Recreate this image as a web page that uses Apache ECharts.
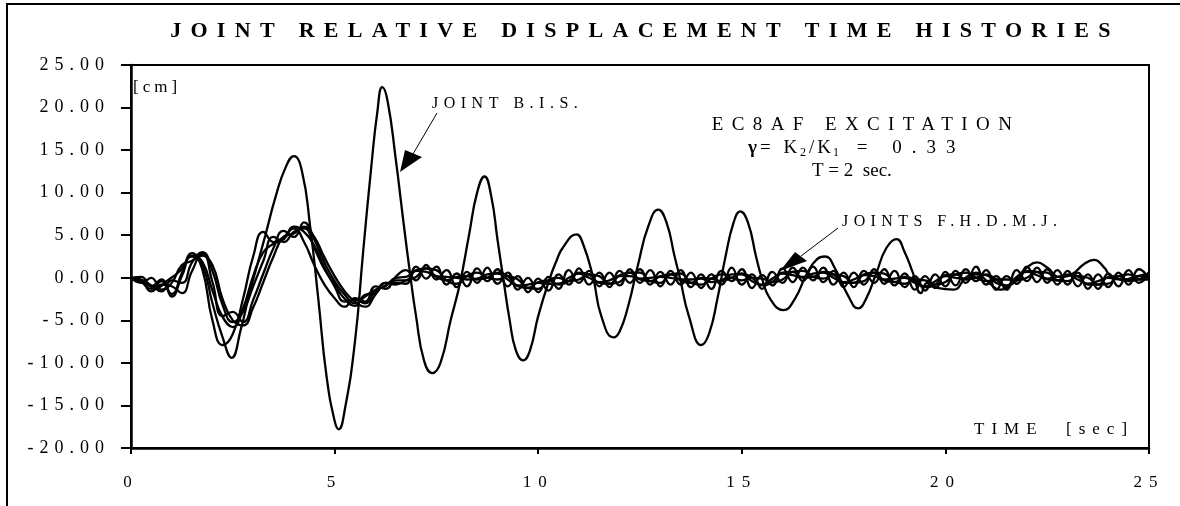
<!DOCTYPE html>
<html><head><meta charset="utf-8">
<script src="https://cdn.jsdelivr.net/npm/echarts@6.0.0/dist/echarts.min.js"></script>
<style>html,body{margin:0;padding:0;background:#fff;}#c{width:1180px;height:506px;}</style>
</head><body><div id="c"></div>
<script>
// ---- data ----
const titleText = 'JOINT RELATIVE DISPLACEMENT TIME HISTORIES';
const xTicks = [0, 5, 10, 15, 20, 25];
const yTicks = [-20, -15, -10, -5, 0, 5, 10, 15, 20, 25];

// JOINT B.I.S. (time [sec], displacement [cm])
const bisT = [0,0.3,0.6,0.9,1.2,1.5,1.75,2.0,2.25,2.47,2.7,2.9,3.1,3.3,3.55,3.8,4.0,4.2,4.4,4.6,4.8,5.0,5.1,5.25,5.5,5.7,5.9,6.05,6.17,6.3,6.5,6.7,6.85,7.0,7.2,7.4,7.6,7.85,8.08,8.3,8.5,8.68,8.85,9.0,9.14,9.3,9.45,9.63,9.8,10.0,10.29,10.45,10.6,10.94,11.1,11.35,11.55,11.85,12.0,12.2,12.45,12.7,12.95,13.15,13.35,13.48,13.7,14.01,14.2,14.4,14.6,14.8,14.96,15.15,15.35,15.49,15.7,16.02,16.3,16.6,16.85,17.04,17.3,17.6,17.86,18.05,18.3,18.55,18.8,19.0,19.2,19.4,19.55,19.8,20.2,20.5,20.75,21.0,21.35,21.7,22.0,22.25,22.5,22.8,23.1,23.4,23.65,23.9,24.05,24.4,24.7,25.0];
const bisV = [0,-0.5,-1.2,-0.3,0.8,2.5,1.5,-3.0,-7.0,-9.4,-6.0,-2.0,1.5,5.0,9.5,13.0,14.3,12.5,6.0,-2.5,-11.5,-16.8,-17.8,-15.5,-7.5,3.0,13.0,19.5,22.4,20.8,14.0,6.2,0.6,-4.5,-9.8,-11.2,-10.0,-5.0,-0.6,5.0,10.0,11.9,9.5,4.5,0.0,-5.0,-8.5,-9.7,-8.5,-4.5,0.0,2.0,3.5,5.1,4.0,0.0,-4.5,-7.0,-6.3,-3.5,1.5,6.0,8.0,6.5,2.5,0.0,-4.5,-7.9,-6.5,-2.5,2.5,6.5,7.8,6.5,2.5,0.0,-2.5,-3.8,-2.5,0.5,2.2,2.5,1.0,-2.0,-3.6,-2.5,0.5,3.5,4.55,3.0,0.6,-1.8,-0.6,-1.2,-1.4,0.0,0.6,-0.3,-1.4,-0.2,1.2,1.8,1.2,0.1,0.4,1.6,2.1,1.2,0.3,-0.2,0.2,0.3];

// JOINTS F.H.D.M.J. common sample times
const fT = [0,0.25,0.5,0.75,1,1.25,1.5,1.75,2,2.25,2.5,2.75,3,3.25,3.5,3.75,4,4.25,4.5,4.75,5,5.25,5.5,5.75,6,6.25,6.5,6.75,7,7.25,7.5,7.75,8,8.25,8.5,8.75,9,9.25,9.5,9.75,10,10.25,10.5,10.75,11,11.25,11.5,11.75,12,12.25,12.5,12.75,13,13.25,13.5,13.75,14,14.25,14.5,14.75,15,15.25,15.5,15.75,16,16.25,16.5,16.75,17,17.25,17.5,17.75,18,18.25,18.5,18.75,19,19.25,19.5,19.75,20,20.25,20.5,20.75,21,21.25,21.5,21.75,22,22.25,22.5,22.75,23,23.25,23.5,23.75,24,24.25,24.5,24.75,25];
const jointF = [0,-0.5,-1.3,-0.4,-1.9,0.6,2.9,1.0,-5.0,-7.9,-6.6,-2.5,2.5,5.4,4.2,4.8,5.8,4.2,1.5,-0.8,-2.4,-3.4,-2.4,-2.8,-1.0,-1.3,0.1,
 0.9,-0.3,1.5,-0.2,0.9,-1.1,0.7,-0.6,1.2,-0.7,0.6,-1.4,0.0,-1.7,0.1,-1.3,0.9,-0.6,0.8,-1.0,0.6,-0.9,1.0,-0.6,0.9,-1.0,0.8,-0.8,0.6,-1.2,0.4,-0.8,1.2,-0.8,0.4,-1.3,0.7,-0.6,1.2,-0.4,1.3,-0.5,0.8,-1.1,0.6,-0.8,1.0,-0.7,0.8,-1.1,0.2,-1.5,0.4,-1.0,0.8,-0.6,1.3,-0.8,0.2,-1.4,0.9,-0.4,1.2,-0.6,0.9,-0.8,0.6,-1.3,0.4,-1.1,0.6,-0.8,1.0,-0.1];
const jointH = [0,-0.2,-0.9,-1.6,-0.3,-0.6,1.8,3.0,0.8,-3.2,-5.2,-4.0,-1.0,2.0,4.8,4.2,5.4,5.8,3.5,1.0,-0.8,-2.5,-3.3,-2.0,-1.8,-0.6,-0.6,
 -0.7,1.3,-0.1,1.3,-0.8,0.5,-1.0,1.1,-0.4,1.0,-1.0,0.2,-1.7,-0.1,-1.5,0.4,-0.8,1.1,-0.8,0.6,-1.1,0.8,-0.6,1.0,-0.8,0.7,-0.8,0.9,-1.1,0.4,-1.3,0.8,-0.4,1.0,-1.2,0.3,-0.9,1.1,-0.5,1.2,-0.3,1.2,-0.8,0.6,-1.1,0.8,-0.6,1.0,-0.9,0.5,-1.4,0.2,-1.2,0.7,-0.9,1.0,-0.4,0.9,-1.4,0.2,-0.7,1.3,-0.5,1.0,-0.8,0.8,-1.0,0.4,-1.3,0.5,-1.0,0.9,-0.6,0.6];
const jointD = [0,-0.6,0.0,-1.4,-0.6,1.5,2.0,2.8,-0.5,-4.5,-4.0,-5.2,-2.6,0.5,3.5,5.5,4.8,6.5,4.5,1.8,-0.4,-2.0,-3.0,-2.2,-1.4,-1.0,0.0,
 0.1,0.8,0.7,0.2,0.1,0.0,-0.2,-0.1,0.4,0.5,-0.2,-0.9,-0.8,-0.6,-0.7,-0.7,0.0,0.5,0.0,-0.5,-0.3,0.2,0.2,-0.1,0.0,0.1,0.0,-0.2,-0.2,-0.1,-0.5,-0.3,0.4,0.4,-0.4,-0.8,-0.1,0.5,0.3,0.1,0.5,0.6,0.0,-0.5,-0.2,0.3,0.2,-0.2,-0.1,0.0,-0.6,-1.0,-0.4,0.2,0.0,-0.1,0.4,0.3,-0.6,-0.9,0.1,0.7,0.3,-0.1,0.1,0.3,-0.2,-0.7,-0.4,0.0,-0.2,-0.3,0.2,0.5];
const jointM = [0,0.1,-1.0,-0.2,-2.2,0.2,2.6,1.9,-1.5,-4.6,-5.8,-3.6,0.2,3.0,4.0,4.5,6.0,5.4,3.8,1.2,-1.0,-2.8,-2.6,-3.0,-1.6,-0.9,-0.3,
 -0.3,0.9,1.1,0.1,-0.3,0.1,0.2,-0.2,0.0,0.6,0.2,-1.0,-1.2,-0.5,-0.3,-0.8,-0.4,0.6,0.4,-0.6,-0.7,0.3,0.6,-0.2,-0.4,0.2,0.4,-0.3,-0.6,0.0,-0.1,-0.4,0.0,0.5,0.0,-0.9,-0.5,0.6,0.7,0.0,0.1,0.7,0.4,-0.6,-0.6,0.4,0.6,-0.3,-0.5,0.1,-0.2,-1.1,-0.8,0.3,0.4,-0.2,0.0,0.4,-0.2,-1.0,-0.3,0.8,0.7,-0.2,-0.3,0.4,0.2,-0.8,-0.8,0.1,0.2,-0.4,-0.2,0.6];
const jointJ = [0,-0.3,-1.6,-0.8,-1.0,-1.8,0.8,2.6,1.5,-2.5,-5.0,-5.6,-3.5,-0.5,2.5,4.8,5.2,6.0,4.8,2.4,0.2,-1.6,-2.8,-3.4,-2.0,-0.6,-0.8,
 -0.3,0.1,1.1,0.9,-0.3,-0.7,0.2,0.6,0.0,-0.2,0.2,-0.2,-1.2,-1.3,-0.3,0.0,-0.4,-0.2,0.4,0.2,-0.7,-0.5,0.6,0.6,-0.4,-0.6,0.4,0.5,-0.6,-0.8,-0.1,0.4,0.0,-0.3,0.0,-0.1,-0.5,-0.2,0.7,0.8,0.1,-0.1,0.4,0.2,-0.6,-0.4,0.6,0.5,-0.5,-0.7,-0.2,-0.3,-0.8,-0.5,0.4,0.6,0.0,-0.4,-0.2,-0.2,-0.3,0.0,0.7,0.6,-0.3,-0.4,0.2,0.0,-0.8,-0.7,0.2,0.4,-0.2,-0.2];

// ---- letter-spaced text: font families carrying a marker "lsNN" (NN = tenths of px) ----
(function(){
  const P = CanvasRenderingContext2D.prototype, of = P.fillText;
  P.fillText = function(t, x, y, w){
    const m = /\bls(\d+)\b/.exec(this.font || '');
    const call = () => (w === undefined ? of.call(this, t, x, y) : of.call(this, t, x, y, w));
    if (!m || !('letterSpacing' in this)) return call();
    const prev = this.letterSpacing;
    this.letterSpacing = (parseInt(m[1], 10) / 10) + 'px';
    const r = call();
    this.letterSpacing = prev;
    return r;
  };
})();
const fam = ls => "'Liberation Serif', ls" + Math.round(ls * 10) + ", serif";

const chart = echarts.init(document.getElementById('c'), null, {renderer: 'canvas', width: 1180, height: 506});

const lineSeries = (name, data) => ({
  name, type: 'line', data, smooth: 0.5, showSymbol: false, symbol: 'none',
  lineStyle: {color: '#000', width: 2.3}, animation: false, z: 3
});

function txt(x, y, text, size, ls, opts) {
  opts = opts || {};
  return {
    type: 'text', x, y, z: 50, silent: true,
    style: {
      text, fill: '#000', fontSize: size, fontFamily: fam(ls),
      fontWeight: opts.bold ? 'bold' : 'normal',
      align: opts.align || 'left', verticalAlign: 'middle'
    }
  };
}

const graphics = [
  {type: 'rect', z: 0, silent: true, shape: {x: 7, y: 4, width: 1300, height: 700}, style: {fill: 'none', stroke: '#000', lineWidth: 2}},
  txt(645, 31, titleText, 22, 9.3, {bold: true, align: 'center'}),
  txt(133, 88, '[cm]', 17, 4),
  txt(432, 104, 'JOINT B.I.S.', 16, 5.5),
  txt(866, 125, 'EC8AF EXCITATION', 19, 8.4, {align: 'center'}),
  // gamma line pieces
  txt(748, 148, 'γ', 19, 0, {bold: true}),
  txt(760, 148, '= K', 19, 4),
  txt(800, 153, '2', 12, 0),
  txt(809, 148, '/K', 19, 3),
  txt(833, 153, '1', 12, 0),
  txt(842, 148, ' = 0.33', 19, 10),
  txt(812, 171, 'T = 2  sec.', 19, 0),
  txt(842, 222, 'JOINTS F.H.D.M.J.', 16, 5.4),
  txt(974, 430, 'TIME  [sec]', 17, 7),
  // arrows
  {type: 'line', z: 40, silent: true, shape: {x1: 437, y1: 113, x2: 413, y2: 154}, style: {stroke: '#000', lineWidth: 1}},
  {type: 'polygon', z: 40, silent: true, shape: {points: [[400, 172], [405, 150], [422, 157]]}, style: {fill: '#000'}},
  {type: 'line', z: 40, silent: true, shape: {x1: 838, y1: 228, x2: 801, y2: 256}, style: {stroke: '#000', lineWidth: 1}},
  {type: 'polygon', z: 40, silent: true, shape: {points: [[780, 271], [795, 252], [807, 261]]}, style: {fill: '#000'}}
];

chart.setOption({
  animation: false,
  backgroundColor: '#fff',
  grid: {left: 131, right: 31, top: 65, bottom: 58, show: true, borderColor: '#000', borderWidth: 2, backgroundColor: 'transparent'},
  xAxis: {
    type: 'value', min: xTicks[0], max: xTicks[xTicks.length - 1], interval: 5,
    axisLine: {show: true, onZero: false, lineStyle: {color: '#000', width: 2.5}},
    axisTick: {show: true, length: 6, lineStyle: {color: '#000', width: 2}},
    axisLabel: {color: '#000', fontSize: 17, fontFamily: fam(7), margin: 26},
    splitLine: {show: false}
  },
  yAxis: {
    type: 'value', min: yTicks[0], max: yTicks[yTicks.length - 1], interval: 5,
    axisLine: {show: true, onZero: false, lineStyle: {color: '#000', width: 2.5}},
    axisTick: {show: true, length: 10, lineStyle: {color: '#000', width: 2}},
    axisLabel: {color: '#000', fontSize: 18, fontFamily: fam(6), margin: 21, formatter: v => v.toFixed(2)},
    splitLine: {show: false}
  },
  series: [
    lineSeries('JOINT B.I.S.', bisT.map((t, i) => [t, bisV[i]])),
    lineSeries('JOINT F', fT.map((t, i) => [t, jointF[i]])),
    lineSeries('JOINT H', fT.map((t, i) => [t, jointH[i]])),
    lineSeries('JOINT D', fT.map((t, i) => [t, jointD[i]])),
    lineSeries('JOINT M', fT.map((t, i) => [t, jointM[i]])),
    lineSeries('JOINT J', fT.map((t, i) => [t, jointJ[i]]))
  ],
  graphic: graphics
});
</script>
</body></html>
